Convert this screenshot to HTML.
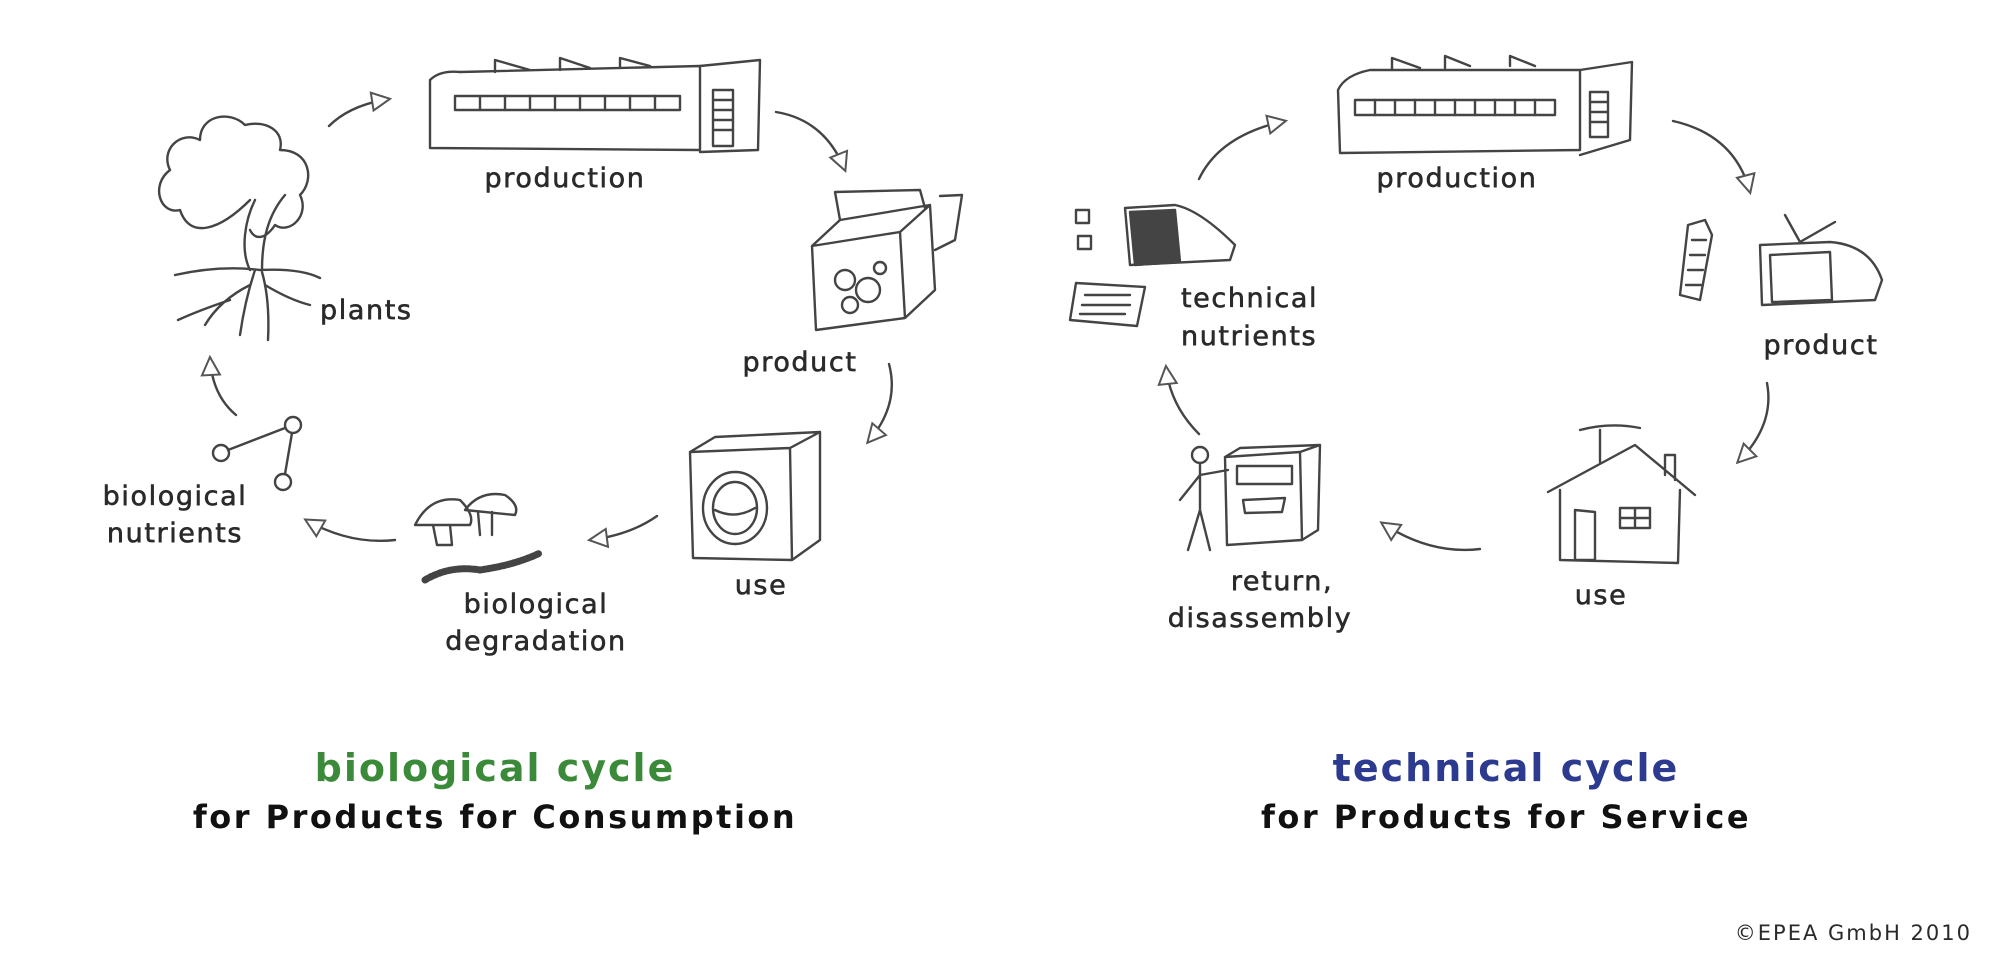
<!DOCTYPE html>
<html><head><meta charset="utf-8"><style>
html,body{margin:0;padding:0;background:#fff;}
svg{display:block}
text{font-family:"DejaVu Sans","Liberation Sans",sans-serif;fill:#2a2a2a;}
.lb text{stroke:#2a2a2a;stroke-width:0.6;}
</style></head><body>
<svg width="2000" height="969" viewBox="0 0 2000 969" xmlns="http://www.w3.org/2000/svg">
<defs>
<marker id="a" viewBox="0 0 24 24" refX="20" refY="12" markerWidth="24" markerHeight="24" orient="auto" markerUnits="userSpaceOnUse">
<path d="M3,3 L21,12 L3,21 Z" fill="#fff" stroke="#555" stroke-width="2"/>
</marker>
</defs>
<g fill="none" stroke="#444" stroke-width="2.4" stroke-linecap="round" stroke-linejoin="round">
<path d="M329,126 Q350,105 389,99" marker-end="url(#a)"/>
<path d="M776,112 Q825,120 845,170" marker-end="url(#a)"/>
<path d="M889,364 Q900,405 868,442" marker-end="url(#a)"/>
<path d="M657,516 Q630,535 590,540" marker-end="url(#a)"/>
<path d="M395,540 Q350,545 306,520" marker-end="url(#a)"/>
<path d="M236,415 Q212,395 210,358" marker-end="url(#a)"/>
<path d="M1199,179 Q1220,135 1285,121" marker-end="url(#a)"/>
<path d="M1673,121 Q1735,135 1750,192" marker-end="url(#a)"/>
<path d="M1767,383 Q1775,425 1738,462" marker-end="url(#a)"/>
<path d="M1480,549 Q1430,555 1382,523" marker-end="url(#a)"/>
<path d="M1199,434 Q1170,405 1166,367" marker-end="url(#a)"/>

<path d="M430,80 Q440,70 460,72 L700,66 L700,150 L430,148 Z"/>
<path d="M700,66 L760,60 L758,150 L700,152"/>
<path d="M495,72 L495,60 L530,70 M560,70 L560,58 L590,68 M620,68 L620,58 L650,66"/>
<rect x="455" y="96" width="225" height="14"/>
<path d="M480,96v14 M505,96v14 M530,96v14 M555,96v14 M580,96v14 M605,96v14 M630,96v14 M655,96v14"/>
<rect x="713" y="90" width="20" height="56"/>
<path d="M713,100h20 M713,110h20 M713,120h20 M713,130h20"/>
<path d="M250,270 C240,250 245,220 255,200 M262,270 C262,240 268,215 285,195 M250,200 C220,230 190,240 180,210 C160,215 150,185 170,170 C160,150 180,130 200,140 C200,115 230,110 245,125 C265,120 285,130 280,150 C310,150 315,180 300,195 C310,215 290,235 275,225 C265,240 255,240 250,230"/>
<path d="M175,275 Q220,265 260,270 Q300,268 320,278 M255,270 Q245,300 240,335 M262,272 Q270,300 268,340 M250,285 Q220,300 205,325 M265,285 Q290,300 310,305 M230,300 Q200,310 178,320"/>
<circle cx="221" cy="453" r="8"/><circle cx="293" cy="425" r="8"/><circle cx="283" cy="482" r="8"/>
<path d="M228,450 L285,428 M292,433 L285,474"/>
<path d="M812,246 L900,232 L905,318 L816,330 Z M900,232 L930,205 L935,290 L905,318 M812,246 L840,220 L930,205"/>
<path d="M840,220 L835,192 L920,190 L925,208 M940,196 L962,195 L955,240 L935,250"/>
<circle cx="845" cy="280" r="10"/><circle cx="868" cy="290" r="12"/><circle cx="850" cy="305" r="8"/><circle cx="880" cy="268" r="6"/>
<path d="M690,452 L790,448 L792,560 L693,558 Z M790,448 L820,432 L820,540 L792,560 M690,452 L715,437 L820,432"/>
<ellipse cx="735" cy="508" rx="32" ry="36"/><ellipse cx="735" cy="508" rx="22" ry="26"/>
<path d="M715,510 Q735,520 755,508"/>
<path d="M415,525 Q430,495 460,500 Q475,515 470,525 Z M433,525 L437,545 L452,545 L450,525"/>
<path d="M465,510 Q480,490 505,495 Q520,505 515,515 Z M478,512 L480,535 M492,512 L492,535"/>
<path d="M425,580 Q450,565 480,570 Q515,565 540,553" stroke-width="7" stroke-dasharray="3 2"/>

<path d="M1338,90 Q1345,75 1370,70 L1580,70 L1580,150 L1340,153 Z"/>
<path d="M1580,70 L1632,62 L1630,140 L1580,155"/>
<path d="M1392,70 L1392,58 L1420,68 M1445,68 L1445,56 L1470,66 M1510,66 L1510,56 L1535,66"/>
<rect x="1355" y="100" width="200" height="15"/>
<path d="M1375,100v15 M1395,100v15 M1415,100v15 M1435,100v15 M1455,100v15 M1475,100v15 M1495,100v15 M1515,100v15 M1535,100v15"/>
<rect x="1590" y="92" width="18" height="45"/><path d="M1590,102h18 M1590,112h18 M1590,122h18"/>
<rect x="1076" y="210" width="13" height="13"/><rect x="1078" y="236" width="13" height="13"/>
<path d="M1125,208 L1175,205 Q1200,210 1235,245 L1230,260 L1130,265 Z" />
<path d="M1130,212 L1175,210 L1180,262 L1135,265 Z" fill="#444"/>
<path d="M1076,283 L1145,287 L1137,326 L1070,320 Z M1085,295h45 M1082,305h48 M1080,314h45"/>
<path d="M1760,245 L1830,242 Q1870,245 1882,280 L1875,300 L1762,305 Z M1770,255 L1830,252 L1832,300 L1772,302 Z M1800,242 L1785,215 M1800,242 L1835,222"/>
<path d="M1688,225 L1705,220 L1712,235 L1700,300 L1680,295 Z M1692,240h14 M1690,255h15 M1688,270h15 M1686,285h15"/>
<path d="M1548,492 L1635,445 L1695,495 M1560,490 L1560,560 L1678,563 L1680,490 M1575,510 L1575,560 L1595,560 L1595,512 Z M1620,508h30v20h-30z M1635,508v20 M1620,518h30 M1665,475 L1665,455 L1675,455 L1675,480 M1600,462 L1600,430 M1580,430 Q1610,422 1640,428"/>
<circle cx="1200" cy="455" r="8"/>
<path d="M1200,463 L1200,510 M1200,475 L1180,500 M1200,475 L1228,470 M1200,510 L1188,550 M1200,510 L1210,550"/>
<path d="M1225,457 L1300,452 L1302,540 L1227,545 Z M1300,452 L1320,445 L1318,530 L1302,540 M1225,457 L1240,448 L1320,445"/>
<path d="M1237,466h55v18h-55z M1243,500 L1285,498 L1282,512 L1245,513 Z"/>
</g>

<g class="lb" font-size="27" letter-spacing="1.6">
<text x="565" y="187" text-anchor="middle">production</text>
<text x="320" y="319">plants</text>
<text x="800" y="371" text-anchor="middle">product</text>
<text x="761" y="594" text-anchor="middle">use</text>
<text x="536" y="613" text-anchor="middle">biological</text>
<text x="536" y="650" text-anchor="middle">degradation</text>
<text x="175" y="505" text-anchor="middle">biological</text>
<text x="175" y="542" text-anchor="middle">nutrients</text>
<text x="1457" y="187" text-anchor="middle">production</text>
<text x="1181" y="307">technical</text>
<text x="1181" y="345">nutrients</text>
<text x="1821" y="354" text-anchor="middle">product</text>
<text x="1601" y="604" text-anchor="middle">use</text>
<text x="1282" y="590" text-anchor="middle">return,</text>
<text x="1260" y="627" text-anchor="middle">disassembly</text>
</g>
<g font-weight="bold" text-anchor="middle">
<text x="495" y="781" font-size="38" letter-spacing="2" style="fill:#3a8a3a">biological cycle</text>
<text x="495" y="828" font-size="32" letter-spacing="2.5" style="fill:#111">for Products for Consumption</text>
<text x="1506" y="781" font-size="38" letter-spacing="2" style="fill:#2c3a8f">technical cycle</text>
<text x="1506" y="828" font-size="32" letter-spacing="2.5" style="fill:#111">for Products for Service</text>
</g>
<text x="1972" y="940" font-size="21" letter-spacing="2" text-anchor="end">©EPEA GmbH 2010</text>
</svg>
</body></html>
